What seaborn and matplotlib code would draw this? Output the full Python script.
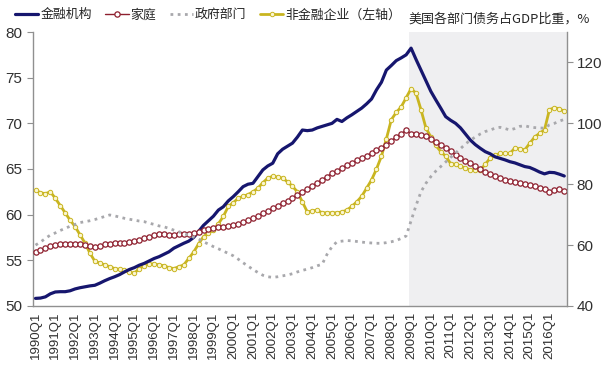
import matplotlib
matplotlib.use("Agg")
import matplotlib.pyplot as plt
import numpy as np
import pandas as pd
import seaborn as sns

years = list(range(1990, 2017))
quarters = [f"{y}Q{q}" for y in years for q in range(1, 5)]

# 金融机构 (right axis)
financial = [
    42.5, 42.6, 43.0, 44.0, 44.6, 44.7, 44.7, 45.0, 45.6, 46.0, 46.3, 46.6,
    46.8, 47.5, 48.3, 49.0, 49.6, 50.3, 51.2, 52.0, 52.6, 53.4, 54.0, 54.8,
    55.6, 56.2, 57.0, 57.8, 59.0, 59.8, 60.6, 61.3, 62.5, 64.5, 66.5, 68.0,
    69.5, 71.5, 72.6, 74.5, 75.9, 77.5, 79.2, 80.0, 80.3, 82.5, 84.7, 86.0,
    86.9, 90.0, 91.5, 92.5, 93.5, 95.5, 97.8, 97.6, 97.8, 98.5, 99.0, 99.5,
    100.0, 101.3, 100.6, 101.8, 102.8, 103.9, 105.0, 106.4, 108.0, 111.0, 113.5, 117.5,
    119.0, 120.6, 121.5, 122.5, 124.7, 121.0, 117.5, 114.0, 110.5, 107.7, 105.0, 102.2,
    101.0, 100.0, 98.5, 96.5, 94.5, 93.0, 91.8, 90.7, 90.0, 89.0, 88.5, 88.0,
    87.4, 87.0, 86.4, 85.8, 85.5, 84.8, 84.0, 83.4, 83.9, 83.8, 83.3, 82.7,
]

# 家庭 (right axis)
household = [
    57.8, 58.3, 59.0, 59.7, 60.0, 60.2, 60.3, 60.4, 60.4, 60.2, 60.0, 59.7,
    59.5, 59.8, 60.2, 60.5, 60.6, 60.7, 60.8, 60.9, 61.2, 61.8, 62.3, 62.8,
    63.3, 63.7, 63.6, 63.4, 63.4, 63.5, 63.6, 63.7, 64.0, 64.4, 64.8, 65.2,
    65.5, 65.8, 66.1, 66.4, 66.6, 67.0, 67.6, 68.2, 68.8, 69.6, 70.5, 71.3,
    72.1, 73.0, 73.8, 74.6, 75.4, 76.5, 77.5, 78.5, 79.5, 80.5, 81.5, 82.5,
    83.6, 84.5, 85.3, 86.2, 87.0, 87.8, 88.6, 89.3, 90.3, 91.2, 92.0, 93.0,
    94.2, 95.6, 96.5, 97.8, 96.5, 96.5, 96.3, 95.8, 95.0, 94.0, 92.9, 91.8,
    90.8, 89.6, 88.5, 87.5, 86.9, 86.0, 85.0, 84.1, 83.5, 82.8, 82.2, 81.5,
    81.0, 80.6, 80.3, 80.0, 79.8, 79.4, 78.9, 78.5, 77.6, 78.0, 78.3, 77.8,
]

# 政府部门 (right axis)
government = [
    60.0, 61.0, 62.2, 63.3, 64.0, 64.8, 65.5, 66.2, 66.8, 67.4, 67.7, 68.0,
    68.4, 68.9, 69.4, 69.9, 69.6, 69.2, 68.8, 68.5, 68.2, 67.9, 67.7, 67.2,
    66.8, 66.3, 66.0, 65.5, 64.9, 64.4, 63.8, 63.2, 62.6, 62.0, 61.1, 60.3,
    59.5, 58.8, 58.0, 57.3, 56.5, 55.4, 54.2, 53.1, 52.0, 51.0, 50.1, 49.6,
    49.4, 49.6, 49.9, 50.2, 50.6, 51.2, 51.7, 52.1, 52.6, 53.2, 53.7, 57.0,
    59.5, 61.1, 61.3, 61.5, 61.4, 61.2, 61.0, 60.8, 60.7, 60.6, 60.6, 60.8,
    61.1, 61.5, 62.2, 63.0, 68.0, 73.0, 77.5, 80.3, 82.5, 84.3, 85.8, 87.3,
    88.8, 90.2, 91.7, 93.2, 94.5, 95.5, 96.5, 97.3, 97.8, 98.4, 98.7, 98.3,
    97.8, 98.3, 99.0, 99.2, 98.8, 98.6, 98.5, 98.4, 99.5, 100.0, 100.7, 101.3,
]

# 非金融企业 (left axis)
corporate = [
    62.7, 62.4, 62.3, 62.5, 61.8, 61.0, 60.2, 59.4, 58.7, 57.8, 56.9, 55.8,
    54.9, 54.7, 54.5, 54.3, 54.1, 54.0, 53.9, 53.7, 53.6, 54.1, 54.4, 54.6,
    54.6, 54.5, 54.4, 54.2, 54.1, 54.3, 54.5, 55.2, 55.9, 56.8, 57.6, 58.0,
    58.3, 59.0, 59.8, 60.9, 61.3, 61.8, 62.0, 62.2, 62.5, 62.9, 63.5, 64.0,
    64.2, 64.1, 64.0, 63.6, 63.1, 62.5, 61.4, 60.3, 60.4, 60.5, 60.2, 60.2,
    60.2, 60.2, 60.3, 60.5, 60.9, 61.4, 62.0, 62.9, 63.8, 65.0, 66.4, 68.3,
    70.4, 71.2, 71.8, 72.8, 73.8, 73.3, 71.5, 69.5, 68.5, 67.6, 66.9, 66.4,
    65.6, 65.5, 65.3, 65.1, 64.9, 64.9, 64.9, 65.5, 66.2, 66.5, 66.7, 66.7,
    66.7, 67.3, 67.2, 67.1, 67.8, 68.5, 68.9, 69.3, 71.5, 71.7, 71.6, 71.3,
]

df = pd.DataFrame({
    "idx": np.arange(len(quarters)),
    "quarter": quarters,
    "financial": financial,
    "household": household,
    "government": government,
    "corporate": corporate,
})

sns.set_style("white")
plt.rcParams["font.family"] = ["Liberation Sans", "Noto Sans CJK SC", "DejaVu Sans"]

fig, ax = plt.subplots(figsize=(6.01, 3.70), dpi=100)
fig.subplots_adjust(left=0.055, right=0.943, top=0.9135, bottom=0.173)
ax2 = ax.twinx()

# shaded period after 2009Q1
ax.axvspan(75.5, len(quarters) - 0.5, color="#efeff1", zorder=0, lw=0)

# left axis: non-financial corporate
sns.lineplot(data=df, x="idx", y="corporate", ax=ax, color="#c9b520", linewidth=2.0,
             marker="o", markersize=3.2, markerfacecolor="#fbf6d0",
             markeredgecolor="#c9b520", markeredgewidth=0.7,
             label="非金融企业（左轴）", legend=False, zorder=3)

# right axis series
sns.lineplot(data=df, x="idx", y="financial", ax=ax2, color="#16166e", linewidth=2.3,
             label="金融机构", legend=False)
sns.lineplot(data=df, x="idx", y="household", ax=ax2, color="#8e1f2e", linewidth=1.0,
             marker="o", markersize=3.8, markerfacecolor="white",
             markeredgecolor="#8e1f2e", markeredgewidth=0.9,
             label="家庭", legend=False)
sns.lineplot(data=df, x="idx", y="government", ax=ax2, color="#a8a8ac", linewidth=2.0,
             linestyle=(0, (1, 1.6)), label="政府部门", legend=False)

ax.set_ylim(50, 80)
ax.set_yticks([50, 55, 60, 65, 70, 75, 80])
ax2.set_ylim(40, 130)
ax2.set_yticks([40, 60, 80, 100, 120])
ax.set_xlim(-0.5, len(quarters) - 0.5)

# year labels at Q1, tick marks between categories
ax.set_xticks(np.arange(0, len(quarters), 4))
ax.set_xticklabels(quarters[::4], rotation=90, fontsize=9.5)
ax.set_xticks(np.arange(-0.5, len(quarters), 4), minor=True)
ax.tick_params(axis="x", which="major", length=0, pad=4)
ax.tick_params(axis="x", which="minor", length=4, color="#909090", direction="out")
ax.set_xlabel("")
ax.set_ylabel("")
ax2.set_ylabel("")

ax.tick_params(axis="y", labelsize=11, length=4, color="#909090", direction="out", pad=4)
ax2.tick_params(axis="y", labelsize=11, length=4, color="#909090", direction="out", pad=3)
for a in (ax, ax2):
    a.spines["top"].set_visible(False)
    for s in ["left", "right", "bottom"]:
        a.spines[s].set_color("#909090")
        a.spines[s].set_linewidth(1.0)
ax.spines["right"].set_visible(False)
ax2.spines["bottom"].set_visible(False)
ax2.spines["left"].set_visible(False)
for lab in ax.get_yticklabels() + ax2.get_yticklabels() + ax.get_xticklabels():
    lab.set_color("#303030")

h1, l1 = ax.get_legend_handles_labels()
h2, l2 = ax2.get_legend_handles_labels()
handles = h2 + h1
labels = l2 + l1
fig.legend(handles, labels, loc="center left", bbox_to_anchor=(0.025, 0.96), ncol=4,
           frameon=False, handlelength=1.8, handletextpad=0.15,
           columnspacing=1.05, borderpad=0.0, borderaxespad=0.0,
           prop={"family": ["Noto Sans CJK SC"], "size": 9.3})

fig.text(0.68, 0.948, "美国各部门债务占GDP比重，%", fontsize=9.4,
         family=["Noto Sans CJK SC"], va="center", ha="left")

fig.savefig("out.png", dpi=100)
